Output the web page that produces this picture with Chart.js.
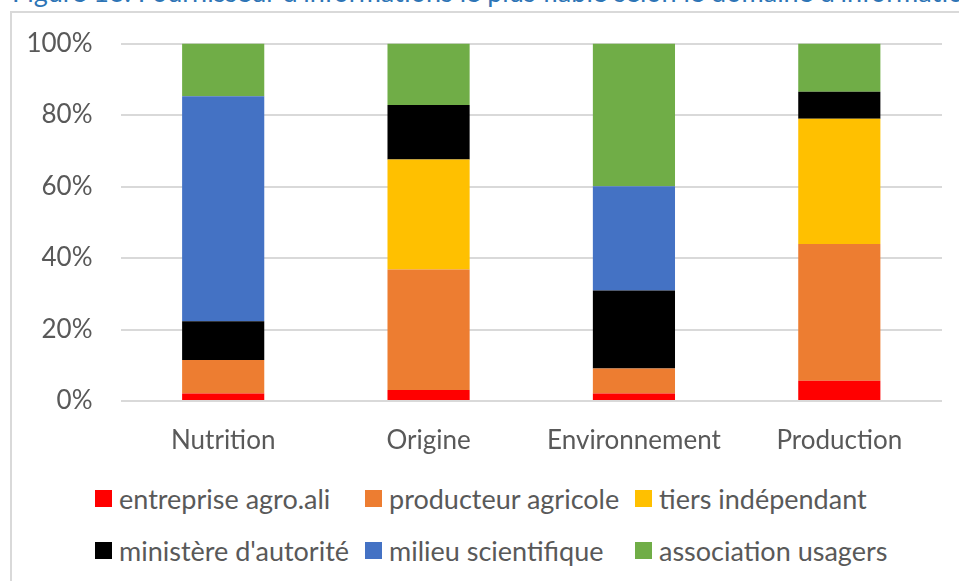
<!DOCTYPE html>
<html>
<head>
<meta charset="utf-8">
<script src="https://cdn.jsdelivr.net/npm/chart.js@4"></script>
<style>
    html, body { margin: 0; padding: 0; background: #fff; }
    body { width: 959px; height: 581px; position: relative; overflow: hidden; font-family: Lato, "Open Sans", sans-serif; }
    #caption { position: absolute; left: 12px; top: -22px; white-space: nowrap; font-size: 27px; line-height: 27px; color: #2E75B6; }
    #frame { position: absolute; left: 10px; top: 11px; width: 960px; height: 580px; border-left: 2px solid #d9d9d9; border-top: 2px solid #d9d9d9; }
    #wrap { position: absolute; left: 0; top: 0; width: 959px; height: 475px; }
    #legend { position: absolute; left: 95px; top: 0; width: 860px; }
    .item { position: absolute; display: flex; align-items: center; font-size: 27px; color: #595959; white-space: nowrap; }
    .box { width: 17px; height: 17px; margin-right: 7px; }
</style>
</head>
<body>
<div id="caption">Figure 13. Fournisseur d'informations le plus fiable selon le domaine d'information</div>
<div id="frame"></div>
<div id="wrap"><canvas id="chart"></canvas></div>
<div id="legend"></div>
<script>
// Fournisseur d'informations par domaine (en %)

const categories = ['Nutrition', 'Origine', 'Environnement', 'Production'];

const entreprise = [2.1, 3.1, 2.1, 5.7];
const producteur = [9.4, 33.7, 7.0, 38.2];
const tiers = [0, 30.8, 0, 35.1];
const ministere = [10.8, 15.2, 21.8, 7.5];
const milieu = [63.0, 0, 29.2, 0];
const association = [14.7, 17.2, 39.9, 13.5];

const seriesNames = ['entreprise agro.ali', 'producteur agricole', 'tiers indépendant',
    "ministère d'autorité", 'milieu scientifique', 'association usagers'];
const seriesColors = ['#FF0000', '#ED7D31', '#FFC000', '#000000', '#4472C4', '#70AD47'];
const seriesData = [entreprise, producteur, tiers, ministere, milieu, association];

const yTicks = [0, 20, 40, 60, 80, 100];

const textColor = '#595959';
const axisFont = { family: 'Lato', size: 26 };

const datasets = seriesNames.map((name, i) => ({
    label: name,
    data: seriesData[i],
    backgroundColor: seriesColors[i],
    borderWidth: 0,
    barPercentage: 0.4,
    categoryPercentage: 1.0
}));

const ctx = document.getElementById('chart').getContext('2d');
new Chart(ctx, {
    type: 'bar',
    data: { labels: categories, datasets: datasets },
    options: {
        responsive: true,
        maintainAspectRatio: false,
        animation: false,
        layout: { padding: { top: 43, right: 17, left: 0, bottom: 0 } },
        plugins: {
            legend: { display: false },
            tooltip: { enabled: false }
        },
        scales: {
            x: {
                stacked: true,
                grid: { display: false },
                border: { display: false },
                ticks: { color: textColor, font: axisFont, padding: 16 },
                afterFit: (scale) => { scale.height = 74; }
            },
            y: {
                stacked: true,
                min: 0,
                max: 100,
                afterBuildTicks: (scale) => { scale.ticks = yTicks.map(v => ({ value: v })); },
                grid: { color: '#d9d9d9', lineWidth: 2, drawTicks: false },
                border: { display: false },
                ticks: {
                    color: textColor,
                    font: axisFont,
                    padding: 28,
                    callback: (v) => v + '%'
                },
                afterFit: (scale) => { scale.width = 120.5; }
            }
        }
    }
});

// Legend, in two rows of three like the original
const legend = document.getElementById('legend');
const colX = [0, 270, 540];
const rowY = [498, 550];
seriesNames.forEach((name, i) => {
    const item = document.createElement('div');
    item.className = 'item';
    item.style.left = colX[i % 3] + 'px';
    item.style.top = (rowY[Math.floor(i / 3)] - 18) + 'px';
    item.style.height = '36px';
    item.innerHTML = `<span class="box" style="background:${seriesColors[i]}"></span><span>${name}</span>`;
    legend.appendChild(item);
});
</script>
</body>
</html>
